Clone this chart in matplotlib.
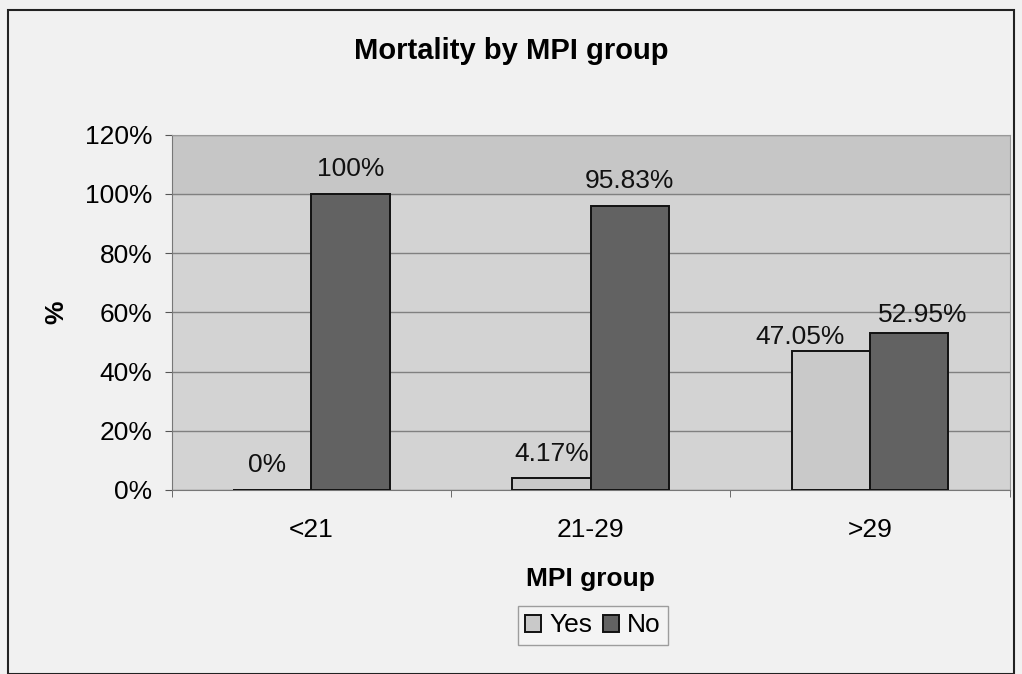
import numpy as np
import matplotlib
matplotlib.use('Agg')
import matplotlib.pyplot as plt
from matplotlib.patches import Rectangle

# --- data ---
groups = ["<21", "21-29", ">29"]
yes_pct = [0.0, 4.17, 47.05]
no_pct = [100.0, 95.83, 52.95]
yes_labels = ["0%", "4.17%", "47.05%"]
no_labels = ["100%", "95.83%", "52.95%"]

plt.rcParams['font.family'] = ['Liberation Sans', 'DejaVu Sans']
FS = 19

fig = plt.figure(figsize=(10.22, 6.74), dpi=100)
fig.patch.set_facecolor('#f1f1f1')

# chart frame
fig.patches.append(Rectangle((0.008, 0.0), 0.984, 0.985, transform=fig.transFigure,
                             fill=False, edgecolor='#222222', linewidth=1.5))

ax = fig.add_axes([0.168, 0.273, 0.820, 0.527])
ax.set_facecolor('#d3d3d3')
ax.axhspan(100, 120, color='#c6c6c6', zorder=0)

x = np.arange(len(groups))
w = 0.28
ax.bar(x - w / 2, yes_pct, w, color='#c9c9c9', edgecolor='#111111', linewidth=1.4, zorder=3, label='Yes')
ax.bar(x + w / 2, no_pct, w, color='#626262', edgecolor='#111111', linewidth=1.4, zorder=3, label='No')

# value labels; the last pair is pushed apart so they don't collide
yes_shift = [(-0.02, 4.5), (0.0, 4.0), (-0.11, 0.6)]
no_shift = [(0.0, 4.5), (0.0, 4.5), (0.05, 2.0)]
for i in range(len(groups)):
    dx, dy = yes_shift[i]
    ax.text(x[i] - w / 2 + dx, yes_pct[i] + dy, yes_labels[i], ha='center', va='bottom',
            fontsize=FS, color='#111111', zorder=5)
    dx, dy = no_shift[i]
    ax.text(x[i] + w / 2 + dx, no_pct[i] + dy, no_labels[i], ha='center', va='bottom',
            fontsize=FS, color='#111111', zorder=5)

ax.set_xlim(-0.5, 2.5)
ax.set_ylim(0, 120)
ax.set_yticks(range(0, 121, 20))
ax.set_yticklabels([f"{v}%" for v in range(0, 121, 20)], fontsize=FS)
ax.set_xticks(x)
ax.set_xticklabels(groups, fontsize=FS)
ax.set_xticks([-0.5, 0.5, 1.5, 2.5], minor=True)
ax.tick_params(axis='x', which='major', length=0, pad=20)
ax.tick_params(axis='x', which='minor', length=5, color='#555555')
ax.tick_params(axis='y', length=5, color='#555555', pad=9)
ax.grid(axis='y', color='#808080', linewidth=1.0, zorder=1)
ax.set_axisbelow(True)
for side in ['top', 'right']:
    ax.spines[side].set_color('#999999')
for side in ['left', 'bottom']:
    ax.spines[side].set_color('#777777')

ax.set_xlabel("MPI group", fontsize=FS, fontweight='bold', labelpad=18)
ax.set_ylabel("%", fontsize=FS, fontweight='bold', rotation=90, labelpad=12)

fig.text(0.5, 0.925, "Mortality by MPI group", ha='center', va='center', fontsize=21, fontweight='bold')

fig.legend(loc='center', bbox_to_anchor=(0.580, 0.072), ncol=2, fontsize=FS,
           frameon=True, fancybox=False, edgecolor='#888888', facecolor='#f5f5f5',
           handlelength=0.6, handleheight=0.6, handletextpad=0.3, columnspacing=0.4,
           borderpad=0.3)

fig.savefig("out.png", dpi=100, facecolor=fig.get_facecolor())
